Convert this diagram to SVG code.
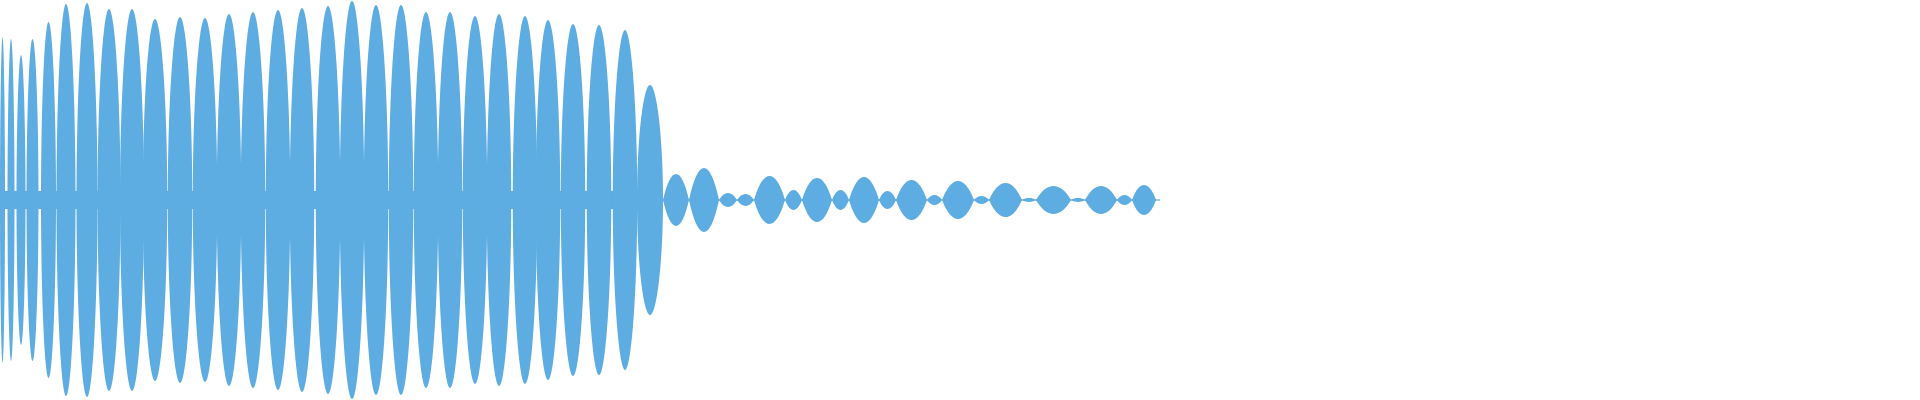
<svg xmlns="http://www.w3.org/2000/svg" xmlns:xlink="http://www.w3.org/1999/xlink" width="1920" height="400" viewBox="0 0 1920 400">
<style>.w{fill:#5DADE2}</style>
<defs>
<path id="lobe" d="M-0.5,0 C-0.5,-0.55 -0.25,-1 0,-1 C0.25,-1 0.5,-0.55 0.5,0 C0.5,0.55 0.25,1 0,1 C-0.25,1 -0.5,0.55 -0.5,0Z"/>
<path id="lens" d="M-0.5,0 C-0.2,-1.333 0.2,-1.333 0.5,0 C0.2,1.333 -0.2,1.333 -0.5,0Z"/>
</defs>
<rect width="1920" height="400" fill="#fff"/>
<g class="w">
<rect x="0" y="191" width="640" height="18"/>
<rect x="655" y="199.4" width="505" height="1.2"/>
<use href="#lobe" transform="translate(2.5,200) scale(5,163)"/>
<use href="#lobe" transform="translate(11,200) scale(7,161)"/>
<use href="#lobe" transform="translate(21,200) scale(9,145)"/>
<use href="#lobe" transform="translate(32.5,200) scale(12,161)"/>
<use href="#lobe" transform="translate(48.5,200) scale(15,178)"/>
<use href="#lobe" transform="translate(66,200) scale(19,196)"/>
<use href="#lobe" transform="translate(87,200) scale(21,197)"/>
<use href="#lobe" transform="translate(109,200) scale(23,191)"/>
<use href="#lobe" transform="translate(132,200) scale(24,191)"/>
<use href="#lobe" transform="translate(155,200) scale(24.5,181)"/>
<use href="#lobe" transform="translate(180,200) scale(24.5,183)"/>
<use href="#lobe" transform="translate(205,200) scale(24.5,182)"/>
<use href="#lobe" transform="translate(229,200) scale(24.5,186)"/>
<use href="#lobe" transform="translate(253,200) scale(24.5,188)"/>
<use href="#lobe" transform="translate(278,200) scale(24.5,190)"/>
<use href="#lobe" transform="translate(302,200) scale(24.5,192)"/>
<use href="#lobe" transform="translate(328,200) scale(24.5,194)"/>
<use href="#lobe" transform="translate(352,200) scale(24.5,199)"/>
<use href="#lobe" transform="translate(376,200) scale(24.5,195)"/>
<use href="#lobe" transform="translate(401,200) scale(24.5,195)"/>
<use href="#lobe" transform="translate(426,200) scale(24.5,188)"/>
<use href="#lobe" transform="translate(450,200) scale(24.5,188)"/>
<use href="#lobe" transform="translate(475,200) scale(24.5,184)"/>
<use href="#lobe" transform="translate(499,200) scale(24.5,186)"/>
<use href="#lobe" transform="translate(525,200) scale(24.5,184)"/>
<use href="#lobe" transform="translate(548,200) scale(24.5,180)"/>
<use href="#lobe" transform="translate(573,200) scale(24.5,176)"/>
<use href="#lobe" transform="translate(599,200) scale(24.5,175)"/>
<use href="#lobe" transform="translate(625,200) scale(24.5,170)"/>
<use href="#lobe" transform="translate(650,200) scale(26,115)"/>
<use href="#lens" transform="translate(676,200) scale(26,26)"/>
<use href="#lens" transform="translate(704,200) scale(30,32)"/>
<use href="#lens" transform="translate(728,200) scale(18,7)"/>
<use href="#lens" transform="translate(745.5,200) scale(17,6)"/>
<use href="#lens" transform="translate(769.5,200) scale(31,24)"/>
<use href="#lens" transform="translate(793.5,200) scale(17,10)"/>
<use href="#lens" transform="translate(817,200) scale(30,22)"/>
<use href="#lens" transform="translate(840.5,200) scale(17,10)"/>
<use href="#lens" transform="translate(864,200) scale(30,23)"/>
<use href="#lens" transform="translate(887.5,200) scale(17,9)"/>
<use href="#lens" transform="translate(911.5,200) scale(31,20)"/>
<use href="#lens" transform="translate(934.5,200) scale(15,5)"/>
<use href="#lens" transform="translate(958,200) scale(32,19)"/>
<use href="#lens" transform="translate(981.5,200) scale(15,4)"/>
<use href="#lens" transform="translate(1005.5,200) scale(33,17)"/>
<use href="#lens" transform="translate(1029,200) scale(14,2)"/>
<use href="#lens" transform="translate(1053.5,200) scale(35,14)"/>
<use href="#lens" transform="translate(1078,200) scale(14,2)"/>
<use href="#lens" transform="translate(1101,200) scale(32,14)"/>
<use href="#lens" transform="translate(1124.5,200) scale(15,5)"/>
<use href="#lens" transform="translate(1144,200) scale(24,15)"/>
</g>
</svg>
